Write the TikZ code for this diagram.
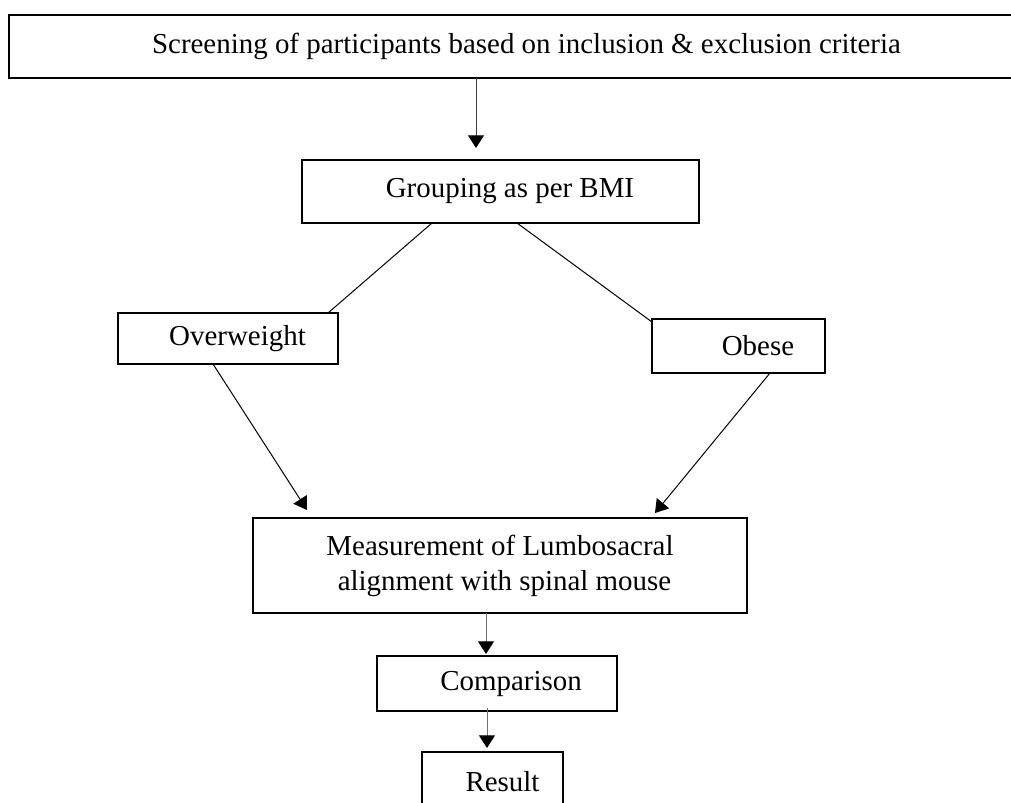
\documentclass[tikz,border=0pt]{standalone}
\usepackage{fontspec}
\setmainfont{Liberation Serif}
\usepackage{tikz}
\usetikzlibrary{arrows.meta}
\newdimen\px
\px=0.75pt
\newcommand{\boxfont}{\fontsize{21.7pt}{26.25pt}\selectfont}
\newcommand{\nudge}[1]{\hspace*{#1\px}}
\tikzset{>={Triangle[width=12pt,length=9.5pt,color=black]}}
\tikzset{stage/.style={draw, line width=1.5pt, inner sep=0pt, outer sep=0pt, font=\boxfont, align=center}}
\tikzset{link/.style={line width=0.75pt}}
\tikzset{flow/.style={->, line width=0.75pt}}

\begin{document}
\begin{tikzpicture}[x=0.75pt, y=-0.75pt]
      \useasboundingbox (0,0) rectangle (1011,803);
      \clip (0,0) rectangle (1011,803);
      \node (screen) at (526.5,46.5) [stage, minimum width=1035\px, minimum height=63\px] {Screening of participants based on inclusion \& exclusion criteria};
      \node (group) at (500.5,191.5) [stage, minimum width=397\px, minimum height=63\px] {\nudge{19}Grouping as per BMI};
      \node (over) at (228,338.5) [stage, minimum width=220\px, minimum height=51\px] {\nudge{19}Overweight};
      \node (obese) at (738.5,346) [stage, minimum width=173\px, minimum height=54\px] {\nudge{39}Obese};
      \node (meas) at (500,565.5) [stage, minimum width=494\px, minimum height=95\px] {Measurement of Lumbosacral\\ \nudge{9}alignment with spinal mouse};
      \node (comp) at (497,683.5) [stage, minimum width=240\px, minimum height=55\px] {\nudge{28}Comparison};
      \node (result) at (492.5,782) [stage, minimum width=141\px, minimum height=60\px] {\nudge{20}Result};
      \draw[flow, black!75] ([xshift=-24.5\px]group.north |- screen.south) -- ([xshift=-24.5\px, yshift=12\px]group.north);
      \draw[link] ([xshift=-68.5\px]group.south) -- ([xshift=100\px]over.north);
      \draw[link] ([xshift=16.5\px]group.south) -- ([yshift=-3\px]obese.north west);
      \draw[flow] ([xshift=-15\px]over.south) -- ([xshift=-193\px, yshift=8\px]meas.north);
      \draw[flow] ([xshift=31.5\px]obese.south) -- ([xshift=155\px, yshift=5\px]meas.north);
      \draw[flow, black!55] ([xshift=-14\px]meas.south) -- ([xshift=-11\px, yshift=2\px]comp.north);
      \draw[flow, black!55] ([xshift=-10\px, yshift=3\px]comp.south) -- ([xshift=-5.5\px, yshift=4\px]result.north);
\end{tikzpicture}
\end{document}
